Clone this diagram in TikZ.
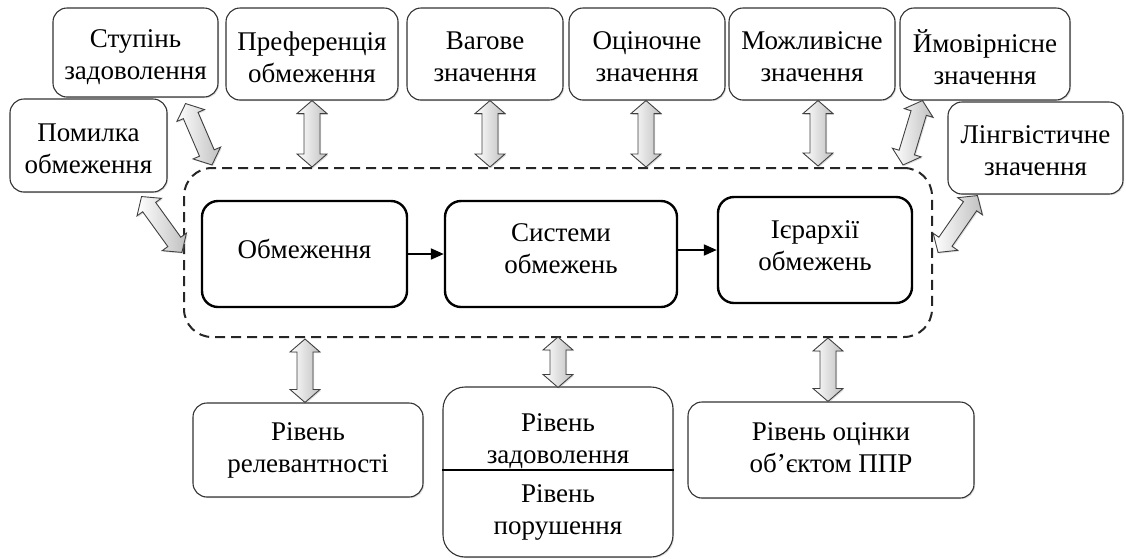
\documentclass[tikz,border=0pt]{standalone}
\usepackage{fontspec}
\setmainfont{Liberation Serif}
\usetikzlibrary{calc,fit,arrows.meta,shadows}
\newcommand\blockarrow[2]{%
  \path[barrow] let \p1=#1, \p2=#2, \n1={atan2(\y2-\y1,\x2-\x1)}, \n2={veclen(\x2-\x1,\y2-\y1)} in
  [shift={(\p1)}, rotate=\n1] (0pt,0pt) -- (13pt,15pt) -- (13pt,8pt) -- (\n2-13pt,8pt) -- (\n2-13pt,15pt)
  -- (\n2,0pt) -- (\n2-13pt,-15pt) -- (\n2-13pt,-8pt) -- (13pt,-8pt) -- (13pt,-15pt) -- cycle;}
\begin{document}
\begin{tikzpicture}[x=1pt,y=-1pt,
  box/.style={draw=black!80, line width=1.1pt, rounded corners=14pt, fill=white, inner sep=0pt,
    drop shadow={opacity=0.25, shadow xshift=1.2pt, shadow yshift=-1.2pt}},
  inbox/.style={draw=black, line width=2.4pt, rounded corners=16pt, fill=white, inner sep=0pt},
  txt/.style={align=center, inner sep=0pt, font=\fontsize{27}{32}\selectfont},
  grpbox/.style={draw=black!85, line width=2pt, dash pattern=on 10pt off 6pt, rounded corners=28pt, inner sep=0pt},
  barrow/.style={draw=black!75, line width=0.9pt, left color=white, right color=black!25, line join=miter,
    drop shadow={opacity=0.25, shadow xshift=1.2pt, shadow yshift=-1.2pt}},
  link/.style={draw=black, line width=2pt, -{Triangle[length=13pt,width=11pt]}}
]
\useasboundingbox (0,0) rectangle (1126,558);
% container
\node[grpbox, fit={(184,168) (932,337)}] (grp) {};
% top boxes
\node[box, fit={(53,8) (218,97)}] (st) {};
\node[txt] at ([yshift=-5pt]st.center) {Ступінь\\задоволення};
\node[box, fit={(226,8) (398,100)}] (pr) {};
\node[txt] at ([yshift=-3pt]pr.center) {Преференція\\обмеження};
\node[box, fit={(407,8) (563,100)}] (va) {};
\node[txt] at ([yshift=-3pt]va.center) {Вагове\\значення};
\node[box, fit={(569,8) (725,100)}] (oc) {};
\node[txt] at ([yshift=-3pt]oc.center) {Оціночне\\значення};
\node[box, fit={(729,8) (895,100)}] (mo) {};
\node[txt] at ([yshift=-3pt]mo.center) {Можливісне\\значення};
\node[box, fit={(900,8) (1070,100)}] (ym) {};
\node[txt] at ([yshift=-3pt]ym.center) {Ймовірнісне\\значення};
\node[box, fit={(948,102) (1123,194)}] (li) {};
\node[txt] at ([yshift=-3pt]li.center) {Лінгвістичне\\значення};
\node[box, fit={(10,99) (167,192)}] (po) {};
\node[txt] at ([yshift=-3pt]po.center) {Помилка\\обмеження};
% inner boxes
\node[inbox, fit={(202,201) (407,307)}] (ob) {};
\node[txt] at ([yshift=5pt]ob.center) {Обмеження};
\node[inbox, fit={(445,201) (677,307)}] (sy) {};
\node[txt] at ([yshift=5pt]sy.center) {Системи\\обмежень};
\node[inbox, fit={(718,197) (912,303)}] (ie) {};
\node[txt] at ([yshift=4pt]ie.center) {Ієрархії\\обмежень};
\draw[link] (ob.east) -- (sy.west |- ob.east);
\draw[link] (sy.east |- ie.west) -- (ie.west);
% bottom boxes
\node[box, fit={(193,403) (423,497)}] (re) {};
\node[txt] at (re) {Рівень\\релевантності};
\node[box, rounded corners=22pt, fit={(443,387) (673,557)}] (mid) {};
\node[txt] (mid1) at (558,441) {Рівень\\задоволення};
\node[txt] (mid2) at (558,512) {Рівень\\порушення};
\draw[black, line width=1.1pt] (mid.west |- 0,470) -- (mid.east |- 0,470);
\node[box, fit={(688,402) (974,498)}] (ro) {};
\node[txt] at ([yshift=2pt]ro.center) {Рівень оцінки\\об’єктом ППР};
% block arrows
\blockarrow{($(st.south east)+(-33,6)$)}{($(grp.north west)+(29,-2)$)}
\blockarrow{($(pr.south)+(0,0)$)}{($(pr.south |- grp.north)$)}
\blockarrow{($(va.south)+(5,0)$)}{($(va.south |- grp.north)+(5,0)$)}
\blockarrow{($(oc.south)+(-1,0)$)}{($(oc.south |- grp.north)+(-1,0)$)}
\blockarrow{($(mo.south)+(6,0)$)}{($(mo.south |- grp.north)+(6,-1)$)}
\blockarrow{($(ym.south west)+(23,0)$)}{($(grp.north east)+(-30,-2)$)}
\blockarrow{($(po.south east)+(-26,4)$)}{($(grp.west)+(-1,0)$)}
\blockarrow{($(li.south west)+(30,1)$)}{($(grp.east)+(5,0)$)}
\blockarrow{($(re.north)+(-3,0)$)}{($(re.north |- grp.south)+(-3,1)$)}
\blockarrow{($(mid.north)+(0,1)$)}{($(mid.north |- grp.south)+(0,-1)$)}
\blockarrow{($(ro.north)+(-3,0)$)}{($(ro.north |- grp.south)+(-3,0)$)}
\end{tikzpicture}
\end{document}
